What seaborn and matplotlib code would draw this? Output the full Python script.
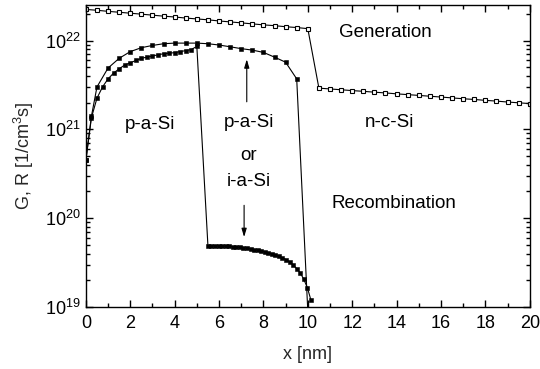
import numpy as np
import pandas as pd
import matplotlib
matplotlib.use("Agg")
import matplotlib.pyplot as plt
from matplotlib.ticker import LogLocator, MultipleLocator, NullFormatter
import seaborn as sns

# Generation rate (open squares): p-a-Si region, then n-c-Si region
gen_x = [0, 0.5, 1, 1.5, 2, 2.5, 3, 3.5, 4, 4.5, 5, 5.5, 6, 6.5, 7, 7.5, 8, 8.5, 9, 9.5, 10,
         10.5, 11, 11.5, 12, 12.5, 13, 13.5, 14, 14.5, 15, 15.5, 16, 16.5, 17, 17.5, 18,
         18.5, 19, 19.5, 20]
gen_y = [2.24e22, 2.19e22, 2.13e22, 2.08e22, 2.03e22, 1.98e22, 1.93e22, 1.88e22, 1.84e22,
         1.79e22, 1.75e22, 1.71e22, 1.66e22, 1.62e22, 1.58e22, 1.54e22, 1.50e22, 1.47e22,
         1.43e22, 1.40e22, 1.36e22,
         2.91e21, 2.85e21, 2.79e21, 2.73e21, 2.68e21, 2.62e21, 2.57e21, 2.51e21, 2.46e21,
         2.41e21, 2.36e21, 2.31e21, 2.26e21, 2.21e21, 2.17e21, 2.12e21, 2.08e21, 2.03e21,
         1.99e21, 1.95e21]

# Recombination rate, p-a-Si / p-a-Si stack
rec_pp_x = [0, 0.25, 0.5, 1, 1.5, 2, 2.5, 3, 3.5, 4, 4.5, 5, 5.5, 6, 6.5, 7, 7.5, 8, 8.5,
            9, 9.5, 10]
rec_pp_y = [4.5e20, 1.4e21, 3.0e21, 4.9e21, 6.3e21, 7.5e21, 8.3e21, 8.8e21, 9.2e21, 9.35e21,
            9.35e21, 9.35e21, 9.2e21, 8.9e21, 8.5e21, 8.1e21, 7.8e21, 7.35e21, 6.5e21,
            5.7e21, 3.7e21, 9e18]

# Recombination rate, p-a-Si / i-a-Si stack
rec_pi_x = [0, 0.25, 0.5, 0.75, 1, 1.25, 1.5, 1.75, 2, 2.25, 2.5, 2.75, 3, 3.25, 3.5, 3.75,
            4, 4.25, 4.5, 4.75, 5,
            5.5, 5.66, 5.82, 5.98, 6.14, 6.3, 6.46, 6.62, 6.78, 6.94, 7.1, 7.26, 7.42, 7.58,
            7.74, 7.9, 8.06, 8.22, 8.38, 8.54, 8.7, 8.86, 9.02, 9.18, 9.34, 9.5, 9.66, 9.82,
            9.98, 10.14]
rec_pi_y = [4.5e20, 1.35e21, 2.24e21, 3.0e21, 3.7e21, 4.3e21, 4.8e21, 5.3e21, 5.6e21, 5.96e21,
            6.3e21, 6.5e21, 6.7e21, 6.9e21, 7.1e21, 7.2e21, 7.3e21, 7.5e21, 7.7e21, 7.9e21,
            8.6e21,
            4.90e19, 4.89e19, 4.88e19, 4.87e19, 4.85e19, 4.83e19, 4.80e19, 4.77e19, 4.73e19,
            4.69e19, 4.64e19, 4.58e19, 4.51e19, 4.43e19, 4.35e19, 4.27e19, 4.18e19, 4.07e19,
            3.96e19, 3.84e19, 3.71e19, 3.57e19, 3.42e19, 3.22e19, 2.98e19, 2.70e19, 2.42e19,
            2.05e19, 1.65e19, 1.20e19]

sns.set_style("ticks")
plt.rcParams["font.family"] = ["Liberation Sans", "DejaVu Sans"]
plt.rcParams["mathtext.fontset"] = "custom"
plt.rcParams["mathtext.rm"] = "Liberation Sans"

FS = 13

fig = plt.figure(figsize=(5.4, 3.69), dpi=100)
ax = fig.add_axes([0.159, 0.168, 0.822, 0.818])

gen = pd.DataFrame({"x": gen_x, "y": gen_y})
pp = pd.DataFrame({"x": rec_pp_x, "y": rec_pp_y})
pi = pd.DataFrame({"x": rec_pi_x, "y": rec_pi_y})

sns.lineplot(data=gen, x="x", y="y", ax=ax, sort=False, color="black", lw=0.8,
             marker="s", markersize=2.9, markerfacecolor="white",
             markeredgecolor="black", markeredgewidth=0.8)
sns.lineplot(data=pp, x="x", y="y", ax=ax, sort=False, color="black", lw=0.8,
             marker="s", markersize=3.0, markerfacecolor="black",
             markeredgecolor="black", markeredgewidth=0.4)
sns.lineplot(data=pi, x="x", y="y", ax=ax, sort=False, color="black", lw=0.8,
             marker="s", markersize=3.0, markerfacecolor="black",
             markeredgecolor="black", markeredgewidth=0.4)

ax.set_yscale("log")
ax.set_xlim(0, 20)
ax.set_ylim(1e19, 2.5e22)

ax.xaxis.set_major_locator(MultipleLocator(2))
ax.xaxis.set_minor_locator(MultipleLocator(1))
ax.yaxis.set_major_locator(LogLocator(base=10))
ax.yaxis.set_minor_locator(LogLocator(base=10, subs=np.arange(2, 10)))
ax.yaxis.set_minor_formatter(NullFormatter())

ax.tick_params(which="both", direction="in", top=True, right=True, labelsize=FS,
               width=1.0, colors="black")
ax.tick_params(which="major", length=5)
ax.tick_params(axis="x", which="major", pad=6)
ax.tick_params(axis="y", which="major", pad=4)
ax.tick_params(which="minor", length=3)
for s in ax.spines.values():
    s.set_linewidth(1.0)
    s.set_color("black")

ax.set_xlabel("x [nm]", fontsize=FS, labelpad=10)
ax.set_ylabel("G, R [1/cm$^3$s]", fontsize=FS, labelpad=6)

txt = dict(fontsize=13.5, ha="center", va="center", color="black")
ax.text(13.5, 1.22e22, "Generation", **txt)
ax.text(2.9, 1.12e21, "p-a-Si", **txt)
ax.text(7.33, 1.2e21, "p-a-Si", **txt)
ax.text(7.33, 5.1e20, "or", **txt)
ax.text(7.33, 2.6e20, "i-a-Si", **txt)
ax.text(13.7, 1.18e21, "n-c-Si", **txt)
ax.text(13.9, 1.48e20, "Recombination", **txt)

arrow = dict(arrowstyle="-|>,head_length=0.5,head_width=0.15", color="black", lw=0.8)
ax.annotate("", xy=(7.25, 6.6e21), xytext=(7.25, 1.9e21), arrowprops=arrow)
ax.annotate("", xy=(7.13, 5.7e19), xytext=(7.13, 1.5e20), arrowprops=arrow)

fig.savefig("out.png", dpi=100)
